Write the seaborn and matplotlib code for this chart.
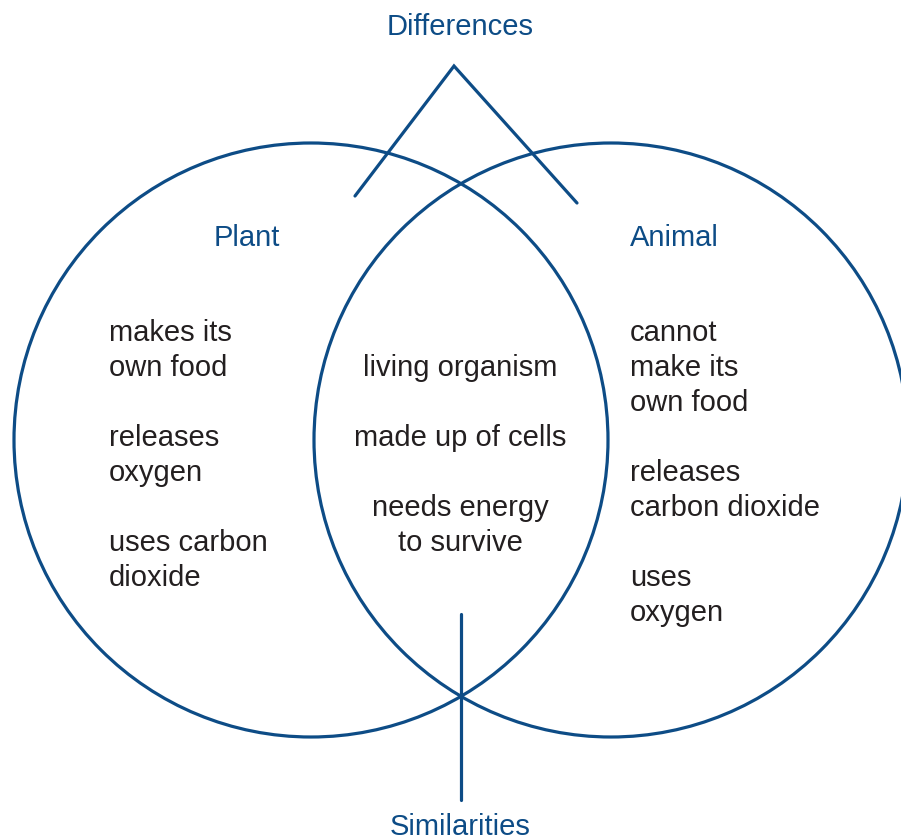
import matplotlib
matplotlib.use('Agg')
import matplotlib.pyplot as plt
from matplotlib.patches import Circle
import seaborn as sns

# Textos do diagrama
titulo_diferencas = 'Differences'
titulo_semelhancas = 'Similarities'
conjuntos = ['Plant', 'Animal']

plant_traits = [['makes its', 'own food'], ['releases', 'oxygen'], ['uses carbon', 'dioxide']]
shared_traits = [['living organism'], ['made up of cells'], ['needs energy', 'to survive']]
animal_traits = [['cannot', 'make its', 'own food'], ['releases', 'carbon dioxide'], ['uses', 'oxygen']]

AZUL = '#0d4c86'
TEXTO = '#231f20'

sns.set_style('white')
plt.rcParams['font.family'] = ['Liberation Sans', 'DejaVu Sans']

fig = plt.figure(figsize=(9.01, 8.4), dpi=100)
ax = fig.add_axes([0, 0, 1, 1])
ax.set_xlim(0, 901)
ax.set_ylim(840, 0)
ax.axis('off')

# Círculos
raio = 297
for cx in (311, 611):
    ax.add_patch(Circle((cx, 440), raio, fill=False, edgecolor=AZUL, lw=2.3))

# Linhas das diferenças e semelhanças
ax.plot([355, 454, 577], [196, 66, 203], color=AZUL, lw=2.3, solid_joinstyle='miter')
ax.plot([461, 461], [614, 800], color=AZUL, lw=2.3)

fs = 21
ax.text(460, 35, titulo_diferencas, ha='center', va='baseline', fontsize=fs, color=AZUL)
ax.text(460, 835, titulo_semelhancas, ha='center', va='baseline', fontsize=fs, color=AZUL)
ax.text(247, 246, conjuntos[0], ha='center', va='baseline', fontsize=fs, color=AZUL)
ax.text(630, 246, conjuntos[1], ha='left', va='baseline', fontsize=fs, color=AZUL)


def escrever_coluna(grupos, x, y0, ha):
    """Escreve os grupos de linhas com uma linha em branco entre eles"""
    linhas = []
    for i, g in enumerate(grupos):
        if i > 0:
            linhas.append('')
        linhas.extend(g)
    passo = 35
    for k, linha in enumerate(linhas):
        if linha:
            ax.text(x, y0 + k * passo, linha, ha=ha, va='baseline', fontsize=fs, color=TEXTO)


escrever_coluna(plant_traits, 109, 341, 'left')
escrever_coluna(shared_traits, 460, 376, 'center')
escrever_coluna(animal_traits, 630, 341, 'left')

fig.savefig('out.png', dpi=100)
